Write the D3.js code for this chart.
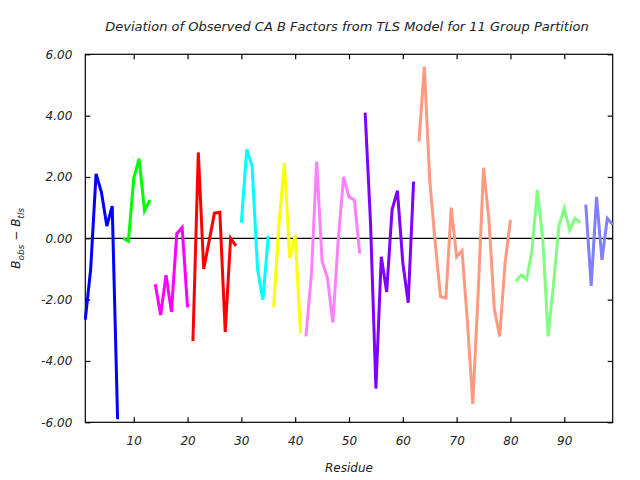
<!DOCTYPE html>
<html>
<head>
<meta charset="utf-8">
<script src="https://cdn.jsdelivr.net/npm/d3@7"></script>
<style>
  body { margin: 0; background: #fff; }
  text { font-family: "DejaVu Sans", sans-serif; font-style: italic; fill: #222; }
</style>
</head>
<body>
<svg id="chart" width="640" height="480"></svg>
<script>
// ---- data ----
const titleText = "Deviation of Observed CA B Factors from TLS Model for 11 Group Partition";
const xTicks = [10, 20, 30, 40, 50, 60, 70, 80, 90];
const yTicks = [-6, -4, -2, 0, 2, 4, 6];
const groupStarts = [1, 8, 14, 21, 30, 36, 42, 53, 63, 81, 94];
const groupColors = ["#0000ff", "#00ff00", "#ff00ff", "#ff0000", "#00ffff", "#ffff00",
                     "#ff80ff", "#8000ff", "#ff9980", "#80ff80", "#8080ff"];
const group1 = [-2.65, -1.0, 2.1, 1.5, 0.4, 1.05, -5.9];
const group2 = [0.0, -0.1, 1.95, 2.6, 0.9, 1.25];
const group3 = [-1.5, -2.5, -1.2, -2.4, 0.15, 0.35, -2.25];
const group4 = [-3.35, 2.8, -1.0, -0.1, 0.82, 0.85, -3.05, 0.0, -0.25];
const group5 = [0.5, 2.9, 2.35, -1.0, -2.0, 0.08];
const group6 = [-2.25, 0.5, 2.45, -0.65, 0.1, -3.1];
const group7 = [-3.2, -1.2, 2.5, -0.75, -1.3, -2.75, -0.05, 2.0, 1.35, 1.25, -0.5];
const group8 = [4.1, 0.5, -4.9, -0.6, -1.75, 0.93, 1.55, -0.8, -2.1, 1.85];
const group9 = [3.15, 5.6, 1.9, -0.1, -1.9, -1.95, 1.0, -0.6, -0.4, -2.7, -5.4, -1.8, 2.3, 0.6, -2.3, -3.2, -0.8, 0.6];
const group10 = [-1.4, -1.2, -1.35, -0.4, 1.57, 0.0, -3.2, -1.5, 0.4, 0.98, 0.27, 0.65, 0.5];
const group11 = [1.1, -1.55, 1.35, -0.7, 0.65, 0.45];
const groupValues = [group1, group2, group3, group4, group5, group6, group7, group8, group9, group10, group11];

// ---- layout ----
const svg = d3.select("#chart");
const mLeft = 85.3, mRight = 612.7, mTop = 54.3, mBottom = 422.3;
const x = d3.scaleLinear().domain([1, 99]).range([mLeft, mRight]);
const y = d3.scaleLinear().domain([-6, 6]).range([mBottom, mTop]);

// frame
svg.append("rect").attr("x", mLeft).attr("y", mTop)
  .attr("width", mRight - mLeft).attr("height", mBottom - mTop)
  .attr("fill", "none").attr("stroke", "#000").attr("stroke-width", 1.2);

// zero line
svg.append("line").attr("x1", mLeft).attr("x2", mRight)
  .attr("y1", y(0)).attr("y2", y(0)).attr("stroke", "#000").attr("stroke-width", 1.2);

// axes
const fmt = d => d.toFixed(2);
const gL = svg.append("g").attr("transform", `translate(${mLeft},0)`)
  .call(d3.axisLeft(y).tickValues(yTicks).tickFormat(fmt).tickSizeInner(-5).tickSizeOuter(0).tickPadding(13));
const gR = svg.append("g").attr("transform", `translate(${mRight},0)`)
  .call(d3.axisRight(y).tickValues(yTicks).tickFormat("").tickSizeInner(-5).tickSizeOuter(0));
const gB = svg.append("g").attr("transform", `translate(0,${mBottom})`)
  .call(d3.axisBottom(x).tickValues(xTicks).tickFormat(d3.format("d")).tickSizeInner(-5).tickSizeOuter(0).tickPadding(14));
const gT = svg.append("g").attr("transform", `translate(0,${mTop})`)
  .call(d3.axisTop(x).tickValues(xTicks).tickFormat("").tickSizeInner(-5).tickSizeOuter(0));
[gL, gR, gB, gT].forEach(g => {
  g.select(".domain").remove();
  g.selectAll(".tick line").attr("stroke", "#000").attr("stroke-width", 1.2);
  g.selectAll("text").attr("font-size", 12).attr("font-family", "DejaVu Sans").attr("font-style", "italic").attr("fill", "#222");
});

// lines
const line = d3.line().x(d => x(d.r)).y(d => y(d.v));
groupValues.forEach((vals, i) => {
  const pts = vals.map((v, k) => ({ r: groupStarts[i] + k, v }));
  svg.append("path").datum(pts)
    .attr("d", line)
    .attr("fill", "none")
    .attr("stroke", groupColors[i])
    .attr("stroke-width", 3)
    .attr("stroke-linejoin", "miter");
});

// title
svg.append("text").attr("x", (mLeft + mRight) / 2 - 2).attr("y", 31)
  .attr("text-anchor", "middle").attr("font-size", 13).text(titleText);

// x label
svg.append("text").attr("x", (mLeft + mRight) / 2).attr("y", 472)
  .attr("text-anchor", "middle").attr("font-size", 12).text("Residue");

// y label
const yl = svg.append("text")
  .attr("transform", `translate(20,${(mTop + mBottom) / 2}) rotate(-90)`)
  .attr("text-anchor", "middle").attr("font-size", 12);
yl.append("tspan").text("B");
yl.append("tspan").attr("font-size", 9).attr("dy", 4).text("obs");
yl.append("tspan").attr("dy", -4).text(" \u2212 B");
yl.append("tspan").attr("font-size", 9).attr("dy", 4).text("tls");
</script>
</body>
</html>
